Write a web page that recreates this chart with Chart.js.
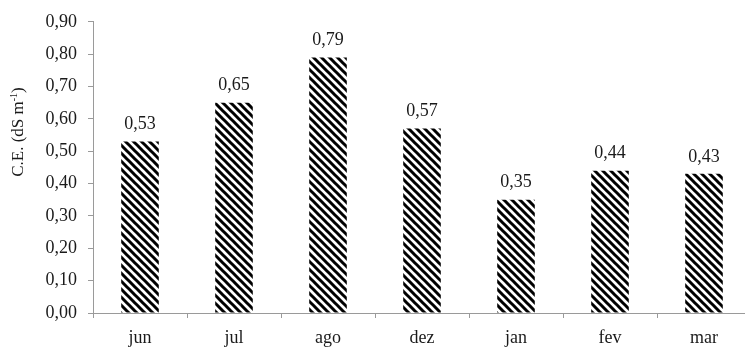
<!DOCTYPE html>
<html>
<head>
<meta charset="utf-8">
<script src="https://cdn.jsdelivr.net/npm/chart.js@4"></script>
<style>
  html, body { margin: 0; padding: 0; background: #fff; overflow: hidden; }
  #wrap { width: 760px; height: 350px; }
</style>
</head>
<body>
<div id="wrap"><canvas id="ce-chart"></canvas></div>
<script>
// data
const months = ['jun', 'jul', 'ago', 'dez', 'jan', 'fev', 'mar'];
const ceValues = [0.53, 0.65, 0.79, 0.57, 0.35, 0.44, 0.43];
const yTicks = [0, 0.1, 0.2, 0.3, 0.4, 0.5, 0.6, 0.7, 0.8, 0.9];

const fontFamily = '"Liberation Serif", "Times New Roman", serif';
const textColor = '#1a1a1a';
const axisColor = '#9a9a9a';

function commaNum(v) {
    return v.toFixed(2).replace('.', ',');
}

// diagonal hatch "\\\" black on white
function makeHatch() {
    const size = 8;
    const c = document.createElement('canvas');
    c.width = size;
    c.height = size;
    const g = c.getContext('2d');
    g.fillStyle = '#fff';
    g.fillRect(0, 0, size, size);
    g.strokeStyle = '#000';
    g.lineWidth = 3;
    g.beginPath();
    g.moveTo(-2, -2); g.lineTo(size + 2, size + 2);
    g.moveTo(-2 - size, -2); g.lineTo(2, size + 2);
    g.moveTo(size - 2, -2); g.lineTo(2 * size + 2, size + 2);
    g.stroke();
    return g.createPattern(c, 'repeat');
}

// value labels above the bars
const valueLabels = {
    id: 'valueLabels',
    afterDatasetsDraw(chart) {
        const ctx = chart.ctx;
        const meta = chart.getDatasetMeta(0);
        ctx.save();
        ctx.font = '18px ' + fontFamily;
        ctx.fillStyle = textColor;
        ctx.textAlign = 'center';
        ctx.textBaseline = 'middle';
        meta.data.forEach((bar, i) => {
            ctx.fillText(commaNum(ceValues[i]), bar.x, bar.y - 17);
        });
        ctx.restore();
    }
};

// rotated y title with superscript
const yTitle = {
    id: 'yTitle',
    afterDraw(chart) {
        const ctx = chart.ctx;
        ctx.save();
        ctx.translate(19, 132);
        ctx.rotate(-Math.PI / 2);
        ctx.fillStyle = textColor;
        ctx.textBaseline = 'middle';
        const main = 'C.E. (dS m';
        const sup = '-1';
        const end = ')';
        ctx.font = '17px ' + fontFamily;
        const w1 = ctx.measureText(main).width;
        const w3 = ctx.measureText(end).width;
        ctx.font = '10px ' + fontFamily;
        const w2 = ctx.measureText(sup).width;
        let x = -(w1 + w2 + w3) / 2;
        ctx.font = '17px ' + fontFamily;
        ctx.textAlign = 'left';
        ctx.fillText(main, x, 0);
        x += w1;
        ctx.font = '10px ' + fontFamily;
        ctx.fillText(sup, x, -5);
        x += w2;
        ctx.font = '17px ' + fontFamily;
        ctx.fillText(end, x, 0);
        ctx.restore();
    }
};

const ctx = document.getElementById('ce-chart').getContext('2d');
new Chart(ctx, {
    type: 'bar',
    data: {
        labels: months,
        datasets: [{
            data: ceValues,
            backgroundColor: makeHatch(),
            borderWidth: 0,
            categoryPercentage: 1,
            barPercentage: 0.4
        }]
    },
    options: {
        responsive: true,
        maintainAspectRatio: false,
        animation: false,
        layout: { padding: { top: 18, right: 9, left: 0, bottom: 0 } },
        plugins: {
            legend: { display: false },
            tooltip: { enabled: false }
        },
        scales: {
            x: {
                offset: true,
                afterFit(scale) { scale.height = 37; },
                grid: {
                    offset: true,
                    drawOnChartArea: false,
                    drawTicks: true,
                    tickLength: 5,
                    color: axisColor
                },
                border: { color: axisColor, width: 1 },
                ticks: {
                    color: textColor,
                    font: { family: fontFamily, size: 18 },
                    padding: 9
                }
            },
            y: {
                min: 0,
                max: 0.9,
                afterFit(scale) { scale.width = 93; },
                afterBuildTicks(scale) {
                    scale.ticks = yTicks.map(v => ({ value: v }));
                },
                grid: {
                    drawOnChartArea: false,
                    drawTicks: true,
                    tickLength: 5,
                    color: axisColor
                },
                border: { color: axisColor, width: 1 },
                ticks: {
                    color: textColor,
                    font: { family: fontFamily, size: 18 },
                    padding: 11,
                    callback: v => commaNum(v)
                }
            }
        }
    },
    plugins: [valueLabels, yTitle]
});
</script>
</body>
</html>
